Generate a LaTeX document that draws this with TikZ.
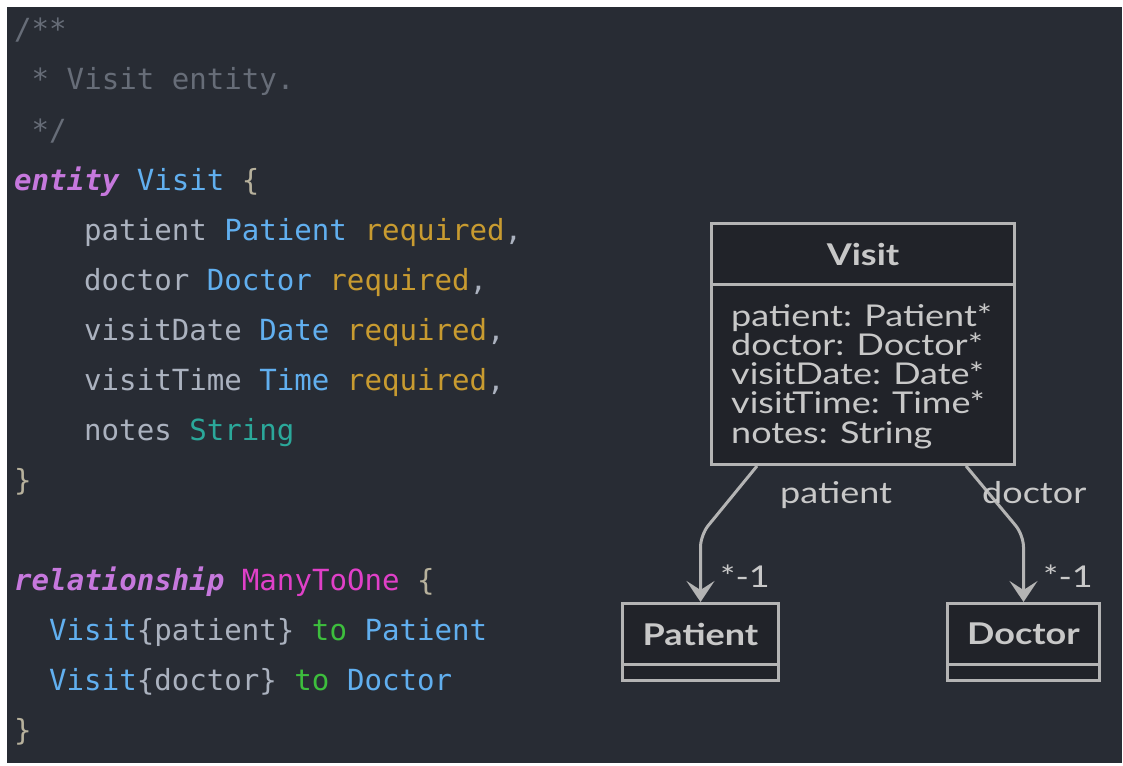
\documentclass[tikz,border=0pt]{standalone}
\usepackage{fontspec}
\setmonofont{DejaVu Sans Mono}
\newfontfamily\umlfont[FakeStretch=1.2]{Lato}
\usetikzlibrary{arrows.meta,calc}

% editor palette
\definecolor{bgdark}{HTML}{282C34}
\definecolor{cmt}{HTML}{676D78}
\definecolor{fg}{HTML}{ABB2BF}
\definecolor{kw}{HTML}{C678DD}
\definecolor{typ}{HTML}{61AFEF}
\definecolor{req}{HTML}{C89B30}
\definecolor{str}{HTML}{2BA89A}
\definecolor{mto}{HTML}{E040C8}
\definecolor{tokw}{HTML}{3DBE3D}
\definecolor{brc}{HTML}{B7B19C}
% diagram palette
\definecolor{umltext}{HTML}{C8C8C8}
\definecolor{umlline}{HTML}{B4B4B4}
\definecolor{boxfill}{HTML}{212329}

\newcommand\kwd[1]{{\color{kw}\bfseries\itshape #1}}
\newcommand\tp[1]{{\color{typ}#1}}
\newcommand\reqd[1]{{\color{req}#1}}

\begin{document}
\begin{tikzpicture}[x=1pt,y=-1pt,
  codeline/.style={anchor=base west, inner sep=0pt, text=fg,
    font=\ttfamily\fontsize{29.1}{50}\selectfont},
  umlbox/.style={draw=umlline, line width=3pt, fill=boxfill, anchor=north west,
    inner sep=0pt, text=umltext},
  umltitle/.style={umlbox, font=\umlfont\bfseries\fontsize{30}{30}\selectfont},
  attr/.style={anchor=base west, inner sep=0pt, text=umltext,
    font=\umlfont\fontsize{30}{30}\selectfont},
  lbl/.style={anchor=base west, inner sep=0pt, text=umltext,
    font=\umlfont\fontsize{30}{30}\selectfont},
  conn/.style={draw=umlline, line width=3pt, rounded corners=12pt,
    -{Stealth[length=21pt,width=28pt,inset=9pt]}}
]
\path[use as bounding box, fill=white] (0,0) rectangle (1123,765);
\fill[bgdark] (7,7) rectangle (1122,763);

% ---- source listing ----
\node[codeline, text=cmt] (l1) at (14,40) {/**};
\node[codeline, text=cmt] (l2) at (31.5,90) {* Visit entity.};
\node[codeline, text=cmt] (l3) at (31.5,140) {*/};
\node[codeline] (l4) at (14,190) {\kwd{entity} \tp{Visit} {\color{brc}\{}};
\node[codeline] (l5) at (84,240) {patient \tp{Patient} \reqd{required},};
\node[codeline] (l6) at (84,290) {doctor \tp{Doctor} \reqd{required},};
\node[codeline] (l7) at (84,340) {visitDate \tp{Date} \reqd{required},};
\node[codeline] (l8) at (84,390) {visitTime \tp{Time} \reqd{required},};
\node[codeline] (l9) at (84,440) {notes {\color{str}String}};
\node[codeline, text=brc] (l10) at (14,490) {\}};
\node[codeline] (l12) at (14,590) {\kwd{relationship} {\color{mto}ManyToOne} {\color{brc}\{}};
\node[codeline] (l13) at (49,640) {\tp{Visit}\{patient\} {\color{tokw}to} \tp{Patient}};
\node[codeline] (l14) at (49,690) {\tp{Visit}\{doctor\} {\color{tokw}to} \tp{Doctor}};
\node[codeline, text=brc] (l15) at (14,740) {\}};

% ---- class diagram ----
\node[umltitle, minimum width=303pt, minimum height=61pt] (visithead) at (710,222) {Visit};
\node[umlbox, minimum width=303pt, minimum height=180pt] (visitbody) at (710,283) {};
\node[attr] (a1) at (731,326) {patient: Patient*};
\node[attr] (a2) at (731,355) {doctor: Doctor*};
\node[attr] (a3) at (731,384) {visitDate: Date*};
\node[attr] (a4) at (731,413) {visitTime: Time*};
\node[attr] (a5) at (731,443) {notes: String};

\node[umltitle, minimum width=156pt, minimum height=61pt] (pathead) at (621,602) {Patient};
\node[umlbox, minimum width=156pt, minimum height=16pt] (patbody) at (621,663) {};
\node[umltitle, minimum width=152pt, minimum height=61pt] (dochead) at (946,602) {Doctor};
\node[umlbox, minimum width=152pt, minimum height=16pt] (docbody) at (946,663) {};

\draw[conn] ($(visitbody.south west)+(47,0)$) -- ($(pathead.north)+(0,-67)$) -- (pathead.north);
\draw[conn] ($(visitbody.south east)+(-50,0)$) -- ($(dochead.north)+(0,-67)$) -- (dochead.north);

\node[lbl] (rolepat) at (780,503) {patient};
\node[lbl] (roledoc) at (982,503) {doctor};
\node[lbl] (multpat) at (720,587) {*-1};
\node[lbl] (multdoc) at (1043,587) {*-1};
\end{tikzpicture}
\end{document}
